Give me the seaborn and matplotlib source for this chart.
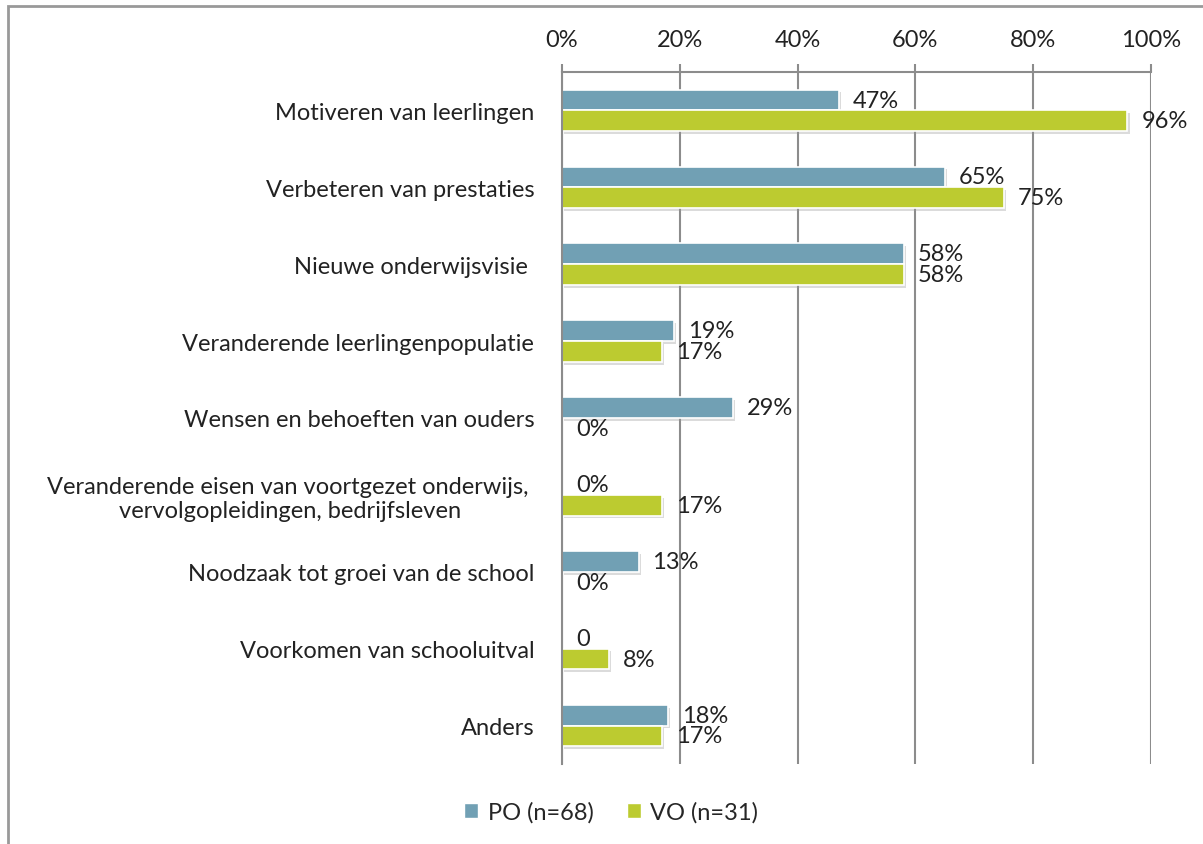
import pandas as pd
import matplotlib.pyplot as plt
import matplotlib.patches as mpatches
import matplotlib.patheffects as pe
import seaborn as sns
import numpy as np

# Categorieën en waarden (percentages)
categories = [
    'Motiveren van leerlingen',
    'Verbeteren van prestaties',
    'Nieuwe onderwijsvisie ',
    'Veranderende leerlingenpopulatie',
    'Wensen en behoeften van ouders',
    'Veranderende eisen van voortgezet onderwijs, \nvervolgopleidingen, bedrijfsleven',
    'Noodzaak tot groei van de school',
    'Voorkomen van schooluitval',
    'Anders',
]
po_values = [47, 65, 58, 19, 29, 0, 13, 0, 18]
vo_values = [96, 75, 58, 17, 0, 17, 0, 8, 17]
po_labels = ['47%', '65%', '58%', '19%', '29%', '0%', '13%', '0', '18%']
vo_labels = ['96%', '75%', '58%', '17%', '0%', '17%', '0%', '8%', '17%']
series = ['PO (n=68)', 'VO (n=31)']
colors = ['#71a0b4', '#bccb30']

df = pd.DataFrame({
    'categorie': categories * 2,
    'waarde': po_values + vo_values,
    'groep': [series[0]] * len(categories) + [series[1]] * len(categories),
})

sns.set_style('white')
plt.rcParams['font.family'] = ['Lato', 'DejaVu Sans']
fs = 17

fig = plt.figure(figsize=(12.03, 8.45), dpi=100)
ax = fig.add_axes([562 / 1203, 1 - 765 / 845, (1151 - 562) / 1203, (765 - 73) / 845])

sns.barplot(data=df, y='categorie', x='waarde', hue='groep', order=categories,
            hue_order=series, palette=colors, orient='h', width=0.54,
            edgecolor='white', linewidth=1.2, saturation=1, ax=ax)

# lichte schaduw onder de balken
for patch in ax.patches:
    patch.set_path_effects([pe.SimplePatchShadow(offset=(1.5, -2), shadow_rgbFace='#999999', alpha=0.35),
                            pe.Normal()])

for cont, labs in zip(ax.containers, [po_labels, vo_labels]):
    ax.bar_label(cont, labels=labs, padding=10, fontsize=fs, color='#222222')

ax.set_xlim(0, 100)
ax.set_ylim(len(categories) - 0.5, -0.5)
ax.set_xticks(np.arange(0, 101, 20))
ax.set_xticklabels([f'{t}%' for t in range(0, 101, 20)])
ax.xaxis.tick_top()
ax.tick_params(axis='x', which='major', direction='out', length=6, width=1.5,
               color='#8c8c8c', pad=10, labelsize=fs, labelcolor='#222222')

ax.set_yticks(np.arange(len(categories)))
ax.set_yticks(np.arange(-0.5, len(categories)), minor=True)
ax.tick_params(axis='y', which='major', length=0, pad=20, labelsize=fs, labelcolor='#222222')
ax.tick_params(axis='y', which='minor', direction='out', length=14, width=1.5, color='#8c8c8c')
for lab in ax.get_yticklabels():
    lab.set_multialignment('center')

ax.set_xlabel('')
ax.set_ylabel('')
ax.set_axisbelow(True)
ax.grid(axis='x', color='#8c8c8c', linewidth=1.5)
ax.grid(axis='y', visible=False)

for side in ['right', 'bottom']:
    ax.spines[side].set_visible(False)
for side in ['top', 'left']:
    ax.spines[side].set_color('#8c8c8c')
    ax.spines[side].set_linewidth(1.5)

# legenda onderaan
ax.get_legend().remove()
handles = [mpatches.Patch(facecolor=c, edgecolor='white', label=s) for c, s in zip(colors, series)]
fig.legend(handles=handles, loc='center', bbox_to_anchor=(0.508, 1 - 813 / 845), ncol=2,
           frameon=False, fontsize=fs, handlelength=0.6, handleheight=0.6,
           handletextpad=0.4, columnspacing=1.4)

# kader om de figuur (alleen boven en links zichtbaar)
fig.patches.append(mpatches.Rectangle((8 / 1203, -0.2), 1.5, 1.2 - 6.5 / 845,
                                      transform=fig.transFigure, fill=False,
                                      edgecolor='#999999', linewidth=2))

plt.savefig('out.png', dpi=100)
print('Grafiek opgeslagen')
